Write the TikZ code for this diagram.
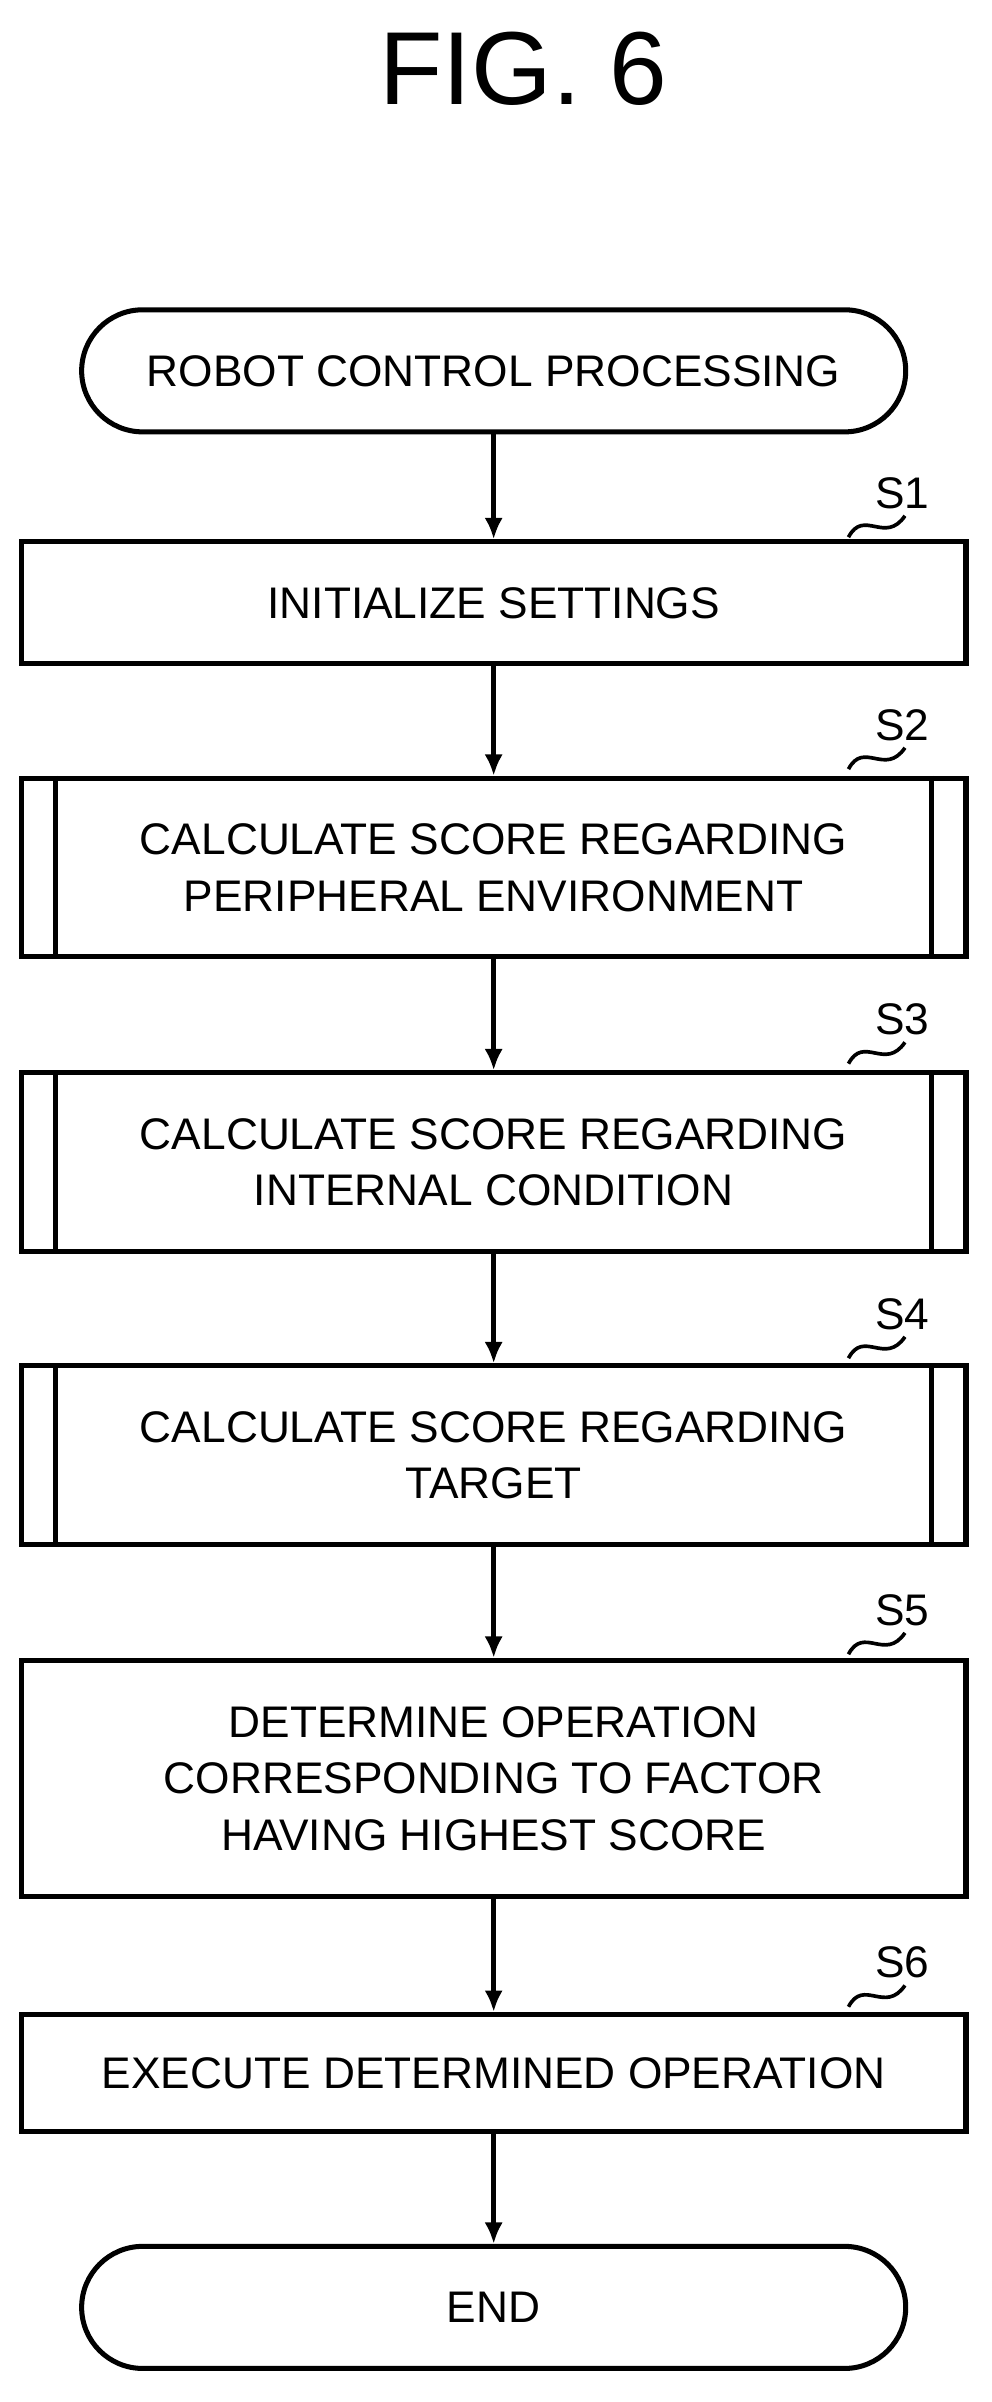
\documentclass[tikz,border=0pt]{standalone}
\usepackage{fontspec}
\setmainfont{Liberation Sans}
\usetikzlibrary{arrows.meta}
\begin{document}
\begin{tikzpicture}[x=1pt,y=-1pt,>=latex,line width=3.3pt,
  box/.style={draw,minimum width=619pt,align=center,inner sep=0pt},
  term/.style={draw,rounded corners=40pt,minimum width=540pt,minimum height=80pt},
  txt/.style={font=\fontsize{29}{37}\selectfont}]
\useasboundingbox (0,0) rectangle (650,1574);
\def\pfeil#1#2{
\draw[-{Latex[length=14pt,width=12pt]}] #1 -- #2;
}
\node[font=\fontsize{68}{72}\selectfont] (fig) at (343,45) {FIG. 6};
\node[term,txt] (start) at (323.5,243) {ROBOT CONTROL PROCESSING};
\node[box,txt,minimum height=80pt] (s1) at (323.5,395) {INITIALIZE SETTINGS};
\node[box,txt,minimum height=117pt] (s2) at (323.5,568.5) {CALCULATE SCORE REGARDING\\PERIPHERAL ENVIRONMENT};
\node[box,txt,minimum height=117pt] (s3) at (323.5,761.5) {CALCULATE SCORE REGARDING\\INTERNAL CONDITION};
\node[box,txt,minimum height=117pt] (s4) at (323.5,953.5) {CALCULATE SCORE REGARDING\\TARGET};
\node[box,txt,minimum height=155pt] (s5) at (323.5,1165.5) {DETERMINE OPERATION\\CORRESPONDING TO FACTOR\\HAVING HIGHEST SCORE};
\node[box,txt,minimum height=77pt] (s6) at (323.5,1358.5) {EXECUTE DETERMINED OPERATION};
\node[term,txt] (end) at (323.5,1512) {END};
% Unterprogramm-Linien
\foreach \s in {s2,s3,s4}{
\draw ([xshift=24pt]\s.north west) -- ([xshift=24pt]\s.south west);
\draw ([xshift=-24pt]\s.north east) -- ([xshift=-24pt]\s.south east);
}
\pfeil{(start)}{(s1)}
\pfeil{(s1)}{(s2)}
\pfeil{(s2)}{(s3)}
\pfeil{(s3)}{(s4)}
\pfeil{(s4)}{(s5)}
\pfeil{(s5)}{(s6)}
\pfeil{(s6)}{(end)}
\foreach \s/\y in {1/335,2/487,3/680,4/873,5/1067,6/1298}{
\coordinate (lab\s) at (572,\y);
\node[txt,anchor=south west,inner sep=0pt] at (lab\s) {S\s};
\draw[line width=2.4pt] (556,\y+17) .. controls (566,\y-2) and (580,\y+22) .. (593,\y+3);
}
\end{tikzpicture}
\end{document}
